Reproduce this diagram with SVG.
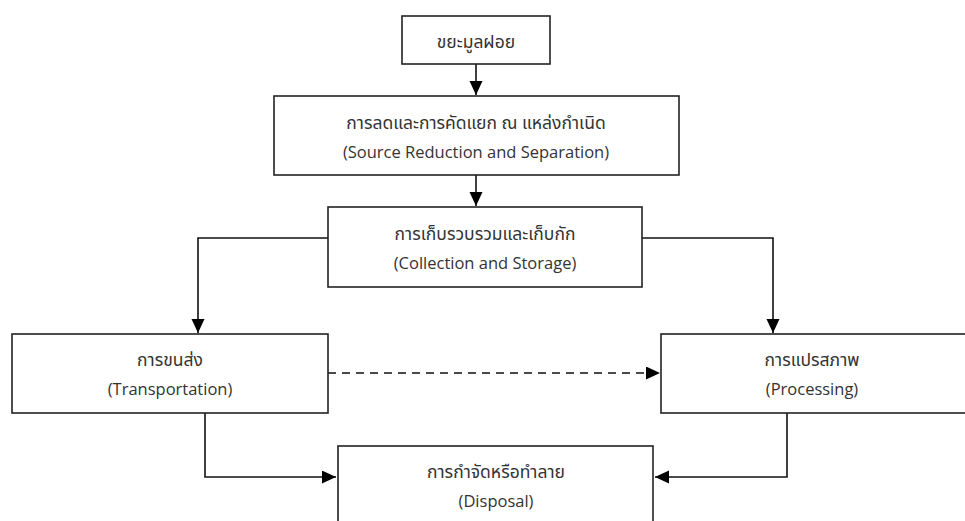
<svg xmlns="http://www.w3.org/2000/svg" width="965" height="521" viewBox="0 0 965 521">
<defs>
<style>
.box{fill:#fff;stroke:#222;stroke-width:1.6}
.t{font-family:"Open Sans","Noto Sans Thai","Noto Sans",Tahoma,sans-serif;font-size:16.5px;fill:#333;text-anchor:middle}
.th{font-size:17.5px}
.c{fill:none;stroke:#111;stroke-width:1.6}
.d{stroke-dasharray:8 6}
</style>
<marker id="ah" markerUnits="userSpaceOnUse" markerWidth="15" markerHeight="14" refX="14" refY="6.5" orient="auto">
<path d="M0,0 L14,6.5 L0,13 z" fill="#000"/>
</marker>
</defs>
<rect width="965" height="521" fill="#fff"/>
<g id="connectors">
<line class="c" x1="476" y1="64" x2="476" y2="95" marker-end="url(#ah)"/>
<line class="c" x1="476" y1="175" x2="476" y2="206" marker-end="url(#ah)"/>
<polyline class="c" points="328,238 198,238 198,333" marker-end="url(#ah)"/>
<polyline class="c" points="642,238 773,238 773,333" marker-end="url(#ah)"/>
<line class="c d" x1="328" y1="373" x2="660" y2="373" marker-end="url(#ah)"/>
<polyline class="c" points="205,413 205,477 336,477" marker-end="url(#ah)"/>
<polyline class="c" points="787,413 787,477 655,477" marker-end="url(#ah)"/>
</g>
<g id="waste">
<rect class="box" x="402" y="16" width="148" height="48"/>
<text class="t th" x="476" y="48">ขยะมูลฝอย</text>
</g>
<g id="source-reduction">
<rect class="box" x="274" y="96" width="405" height="79"/>
<text class="t th" x="476" y="129">การลดและการคัดแยก ณ แหล่งกำเนิด</text>
<text class="t" x="476" y="158">(Source Reduction and Separation)</text>
</g>
<g id="collection">
<rect class="box" x="328" y="207" width="314" height="80"/>
<text class="t th" x="485" y="240">การเก็บรวบรวมและเก็บกัก</text>
<text class="t" x="485" y="269">(Collection and Storage)</text>
</g>
<g id="transportation">
<rect class="box" x="12" y="334" width="316" height="79"/>
<text class="t th" x="170" y="366">การขนส่ง</text>
<text class="t" x="170" y="395">(Transportation)</text>
</g>
<g id="processing">
<rect class="box" x="661" y="334" width="310" height="79"/>
<text class="t th" x="812" y="366">การแปรสภาพ</text>
<text class="t" x="812" y="395">(Processing)</text>
</g>
<g id="disposal">
<rect class="box" x="338" y="446" width="315" height="85"/>
<text class="t th" x="496" y="478">การกำจัดหรือทำลาย</text>
<text class="t" x="496" y="507">(Disposal)</text>
</g>
</svg>
